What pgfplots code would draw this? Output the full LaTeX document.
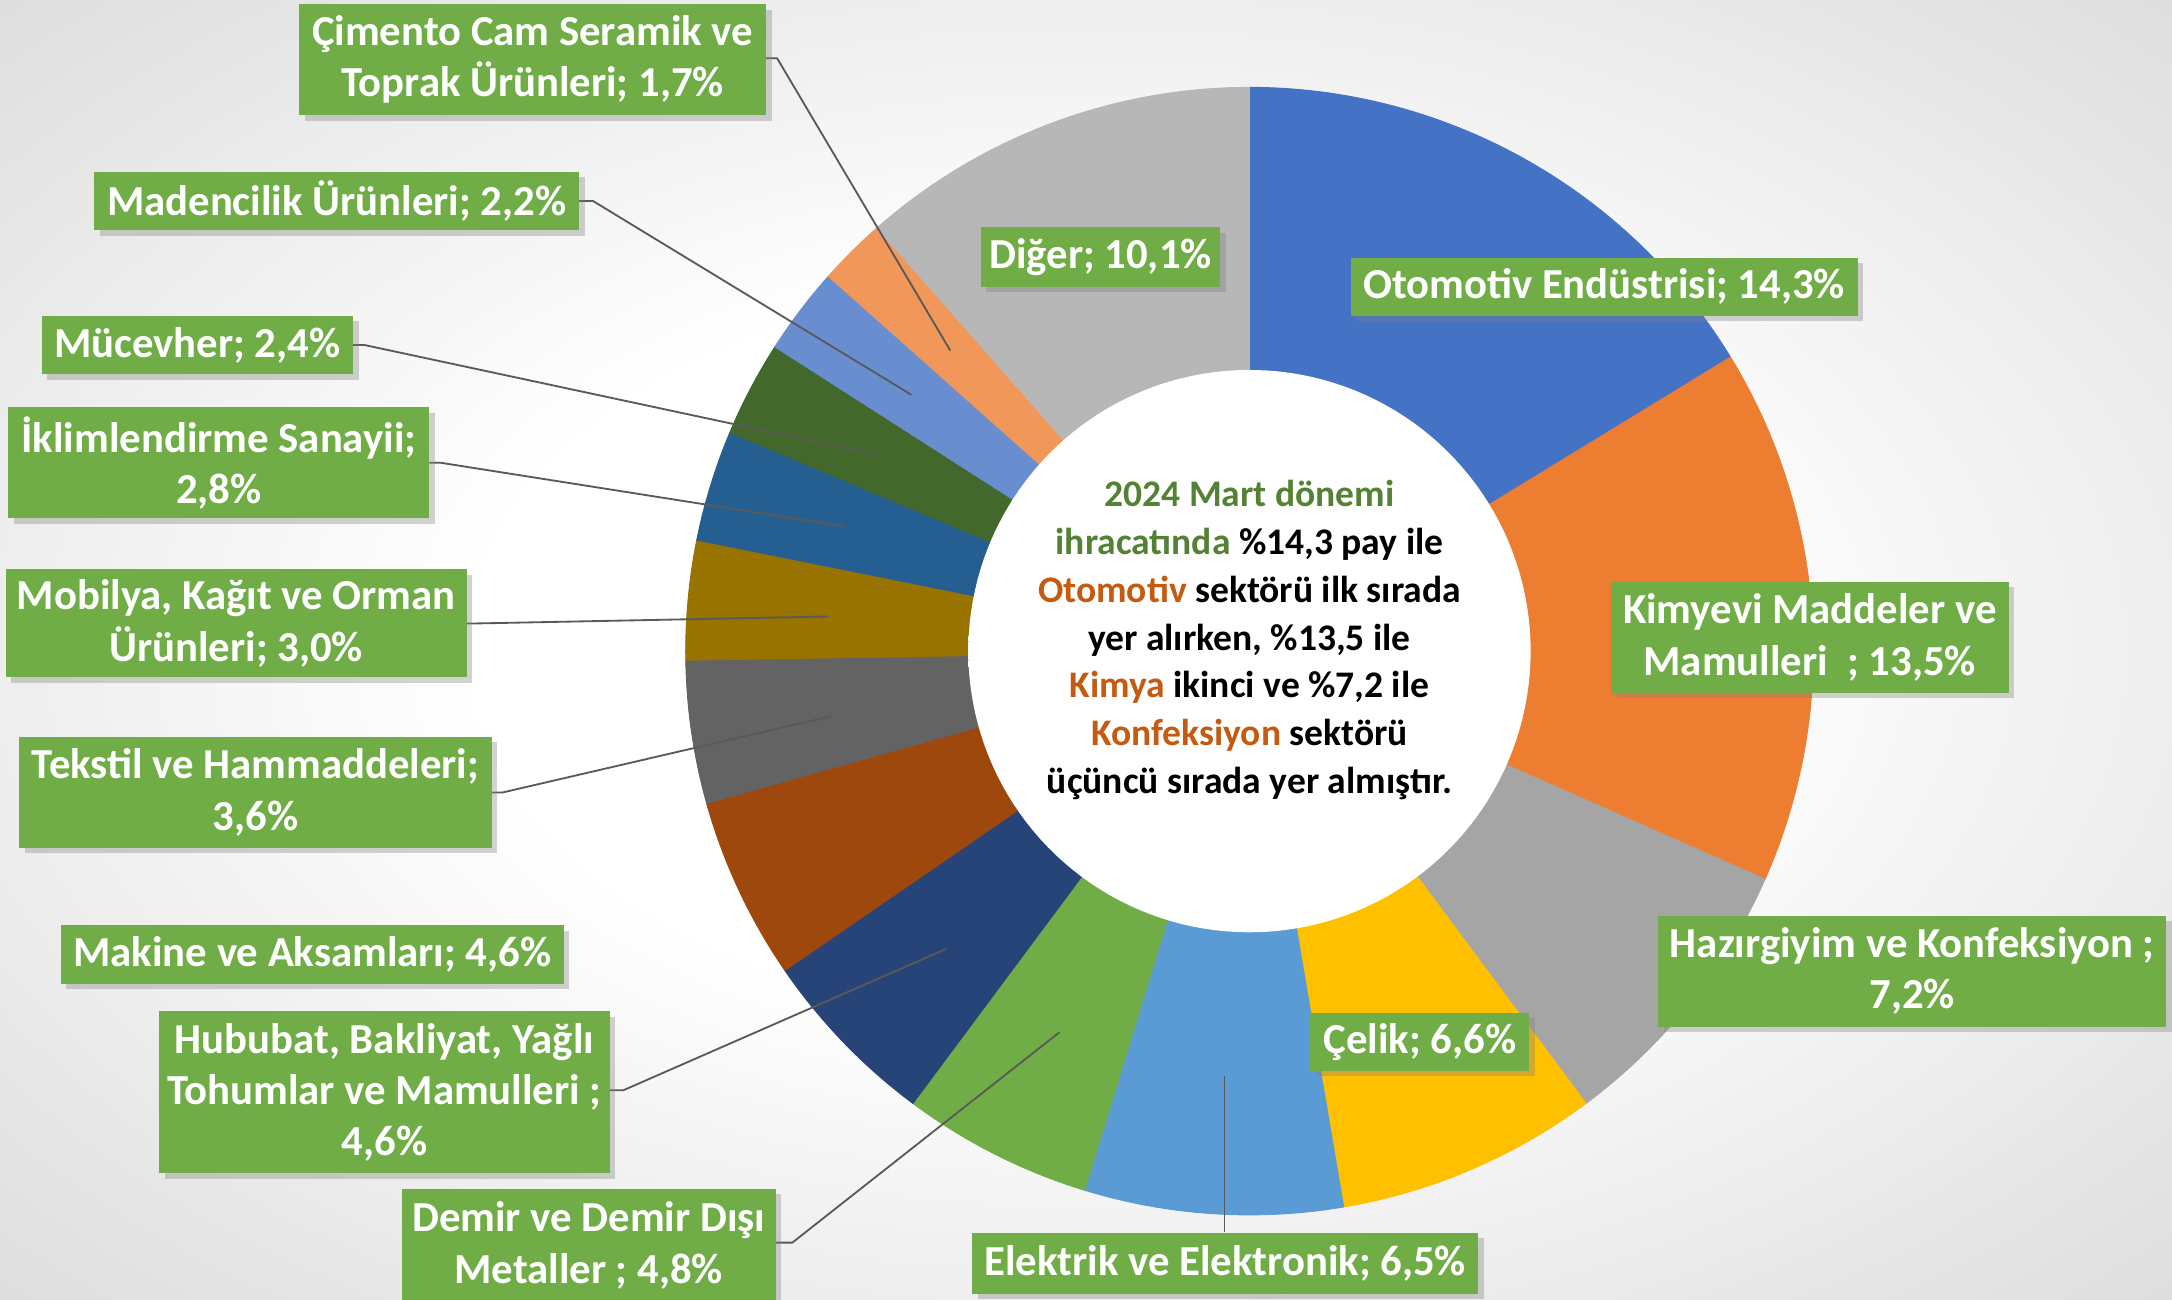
\documentclass[border=0pt]{standalone}
\usepackage{fontspec}
\setmainfont{Carlito}
\usepackage{pgfplots}
\pgfplotsset{compat=1.18}
\usetikzlibrary{shadows}

\definecolor{s1}{HTML}{4472C4}
\definecolor{s2}{HTML}{ED7D31}
\definecolor{s3}{HTML}{A5A5A5}
\definecolor{s4}{HTML}{FFC000}
\definecolor{s5}{HTML}{5B9BD5}
\definecolor{s6}{HTML}{70AD47}
\definecolor{s7}{HTML}{264478}
\definecolor{s8}{HTML}{9E480E}
\definecolor{s9}{HTML}{636363}
\definecolor{s10}{HTML}{997300}
\definecolor{s11}{HTML}{255E91}
\definecolor{s12}{HTML}{43682B}
\definecolor{s13}{HTML}{698ED0}
\definecolor{s14}{HTML}{F1975A}
\definecolor{s15}{HTML}{B7B7B7}
\definecolor{lblgreen}{HTML}{70AD47}
\definecolor{txtgreen}{HTML}{548235}
\definecolor{txtorange}{HTML}{C55A11}
\definecolor{leader}{HTML}{595959}

\pgfdeclareradialshading{bgshade}{\pgfpoint{0bp}{0bp}}{color(0bp)=(white); color(14bp)=(white); color(50bp)=(black!22)}
\pgfdeclareradialshading{inshade}{\pgfpoint{0bp}{0bp}}{color(0bp)=(white); color(41bp)=(white); color(50bp)=(black!13)}

\tikzset{
  lbl/.style={fill=lblgreen, text=white, font=\bfseries\fontsize{14}{16.8}\selectfont,
    align=center, inner sep=0pt,
    drop shadow={shadow xshift=1.8pt, shadow yshift=-1.8pt, opacity=0.35}},
  ld/.style={draw=leader, line width=0.6pt}
}

\begin{document}
\begin{tikzpicture}
\shade[shading=bgshade] (0,0) rectangle (711.4pt,425.6pt);
\begin{axis}[
  at={(0,0)}, anchor=south west,
  x=0.4537pt, y=0.4537pt,
  xmin=0, xmax=1568, ymin=0, ymax=938,
  hide axis, clip=false
]
% slices: share (%) / colour, clockwise from the top; total 87.9
\def\cum{0}
\foreach \val/\col in {14.3/s1, 13.5/s2, 7.2/s3, 6.6/s4, 6.5/s5, 4.8/s6, 4.6/s7, 4.6/s8,
                   3.6/s9, 3.0/s10, 2.8/s11, 2.4/s12, 2.2/s13, 1.7/s14, 10.1/s15} {
  \pgfmathsetmacro\angA{90-\cum/87.9*360}
  \pgfmathsetmacro\newcum{\cum+\val}
  \xdef\cum{\newcum}
  \pgfmathsetmacro\angB{90-\cum/87.9*360}
  \edef\temp{\noexpand\addplot[fill=\col, draw=\col, line width=0.3pt, domain=\angB:\angA, samples=60]
    ({902+407*cos(x)},{468+407*sin(x)}) -- (axis cs:902,468) -- cycle;}
  \temp
}
% centre hole with soft inner shade
\addplot[shade, shading=inshade, draw=none, domain=0:360, samples=160] ({902+203*cos(x)},{468+203*sin(x)}) -- cycle;

\node[font=\bfseries\fontsize{12.3}{15.7}\selectfont, align=center] at (axis cs:902,476) {%
  \textcolor{txtgreen}{2024 Mart dönemi}\\
  \textcolor{txtgreen}{ihracatında} \%14,3 pay ile\\
  \textcolor{txtorange}{Otomotiv} sektörü ilk sırada\\
  yer alırken, \%13,5 ile\\
  \textcolor{txtorange}{Kimya} ikinci ve \%7,2 ile\\
  \textcolor{txtorange}{Konfeksiyon} sektörü\\
  üçüncü sırada yer almıştır.};

% leader lines
\draw[ld] (axis cs:553,896) -- (axis cs:561,896) -- (axis cs:686,685);
\draw[ld] (axis cs:418,793) -- (axis cs:428,793) -- (axis cs:658,653);
\draw[ld] (axis cs:255,689) -- (axis cs:263,689) -- (axis cs:632,610);
\draw[ld] (axis cs:310,604) -- (axis cs:318,604) -- (axis cs:610,558);
\draw[ld] (axis cs:337,488) -- (axis cs:345,488) -- (axis cs:598,493);
\draw[ld] (axis cs:355,366) -- (axis cs:363,366) -- (axis cs:600,421);
\draw[ld] (axis cs:440,151) -- (axis cs:450,151) -- (axis cs:683,253);
\draw[ld] (axis cs:560,41) -- (axis cs:572,41) -- (axis cs:765,193);
\draw[ld] (axis cs:884,49) -- (axis cs:884,161);

% labels
\node[lbl, minimum width=152.9pt, minimum height=36.3pt] at (axis cs:384.5,895) {Çimento Cam Seramik ve\\Toprak Ürünleri; 1,7\%};
\node[lbl, minimum width=158.8pt, minimum height=19.1pt] at (axis cs:243,793) {Madencilik Ürünleri; 2,2\%};
\node[lbl, minimum width=102.1pt, minimum height=19.1pt] at (axis cs:142.5,689) {Mücevher; 2,4\%};
\node[lbl, minimum width=137.9pt, minimum height=36.3pt] at (axis cs:158,604) {İklimlendirme Sanayii;\\2,8\%};
\node[lbl, minimum width=151.1pt, minimum height=35.4pt] at (axis cs:170.5,488) {Mobilya, Kağıt ve Orman\\Ürünleri; 3,0\%};
\node[lbl, minimum width=154.7pt, minimum height=36.3pt] at (axis cs:184.5,366) {Tekstil ve Hammaddeleri;\\3,6\%};
\node[lbl, minimum width=164.7pt, minimum height=19.1pt] at (axis cs:225.5,249) {Makine ve Aksamları; 4,6\%};
\node[lbl, minimum width=147.5pt, minimum height=53.1pt] at (axis cs:277.5,149.5) {Hububat, Bakliyat, Yağlı\\Tohumlar ve Mamulleri ;\\4,6\%};
\node[lbl, minimum width=122.5pt, minimum height=37.2pt] at (axis cs:425,39) {Demir ve Demir Dışı\\Metaller ; 4,8\%};
\node[lbl, minimum width=165.6pt, minimum height=20pt] at (axis cs:884.5,26) {Elektrik ve Elektronik; 6,5\%};
\node[lbl, minimum width=71.7pt, minimum height=19.1pt] at (axis cs:1025,186) {Çelik; 6,6\%};
\node[lbl, minimum width=166.5pt, minimum height=36.3pt] at (axis cs:1380.5,237) {Hazırgiyim ve Konfeksiyon ;\\7,2\%};
\node[lbl, minimum width=130.2pt, minimum height=36.3pt] at (axis cs:1306.5,478) {Kimyevi Maddeler ve\\Mamulleri\ \ ; 13,5\%};
\node[lbl, minimum width=166.1pt, minimum height=19.1pt] at (axis cs:1158,731) {Otomotiv Endüstrisi; 14,3\%};
\node[lbl, minimum width=78.5pt, minimum height=19.5pt] at (axis cs:794.5,752.5) {Diğer; 10,1\%};
\end{axis}
\pgfresetboundingbox
\useasboundingbox (0,0) rectangle (711.4pt,425.6pt);
\end{tikzpicture}
\end{document}
